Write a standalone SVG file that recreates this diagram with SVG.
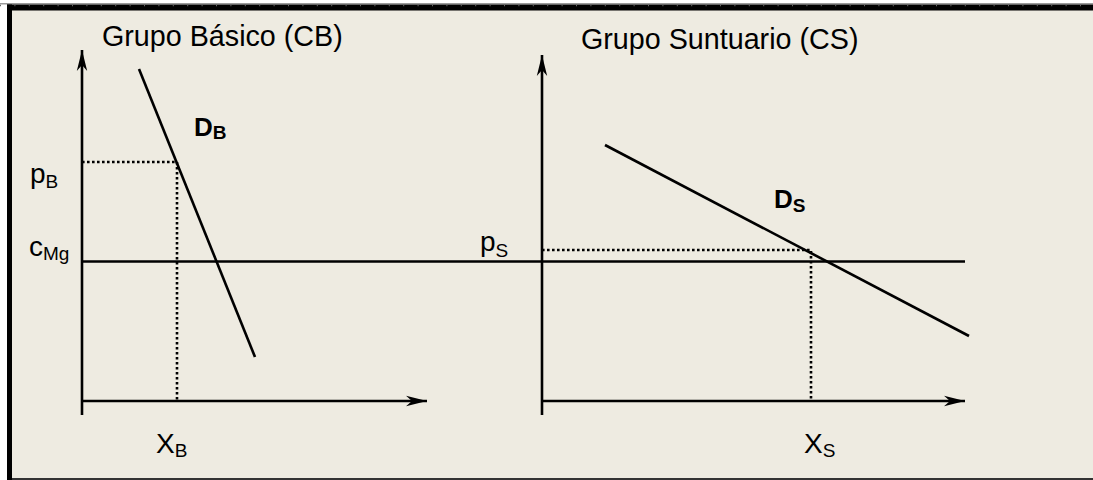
<svg xmlns="http://www.w3.org/2000/svg" width="1093" height="480" viewBox="0 0 1093 480">
  <style>
    .axis { stroke: #000; stroke-width: 2.6; fill: none; }
    .curve { stroke: #000; stroke-width: 2.6; fill: none; }
    .dot { stroke: #000; stroke-width: 2.6; stroke-dasharray: 2.6 2.4; fill: none; }
    text { font-family: "Liberation Sans", Arial, sans-serif; fill: #000; }
    .title { font-size: 28.7px; }
    .lbl { font-size: 28px; }
    .sub { font-size: 19px; }
    .bold { font-weight: bold; font-size: 26px; }
  </style>
  <defs>
    <marker id="arr" markerUnits="userSpaceOnUse" markerWidth="24" markerHeight="14" refX="22" refY="6" orient="auto" viewBox="0 0 24 12">
      <path d="M22,6 L1,0.8 L7,6 L1,11.2 Z" fill="#000"/>
    </marker>
  </defs>
  <rect x="0" y="0" width="1093" height="480" fill="#fff"/>
  <rect x="12" y="10" width="1081" height="468" fill="#EEEBE1"/>
  <g id="frame">
    <rect x="0" y="3" width="1093" height="1.5" fill="#9a9a9a"/>
    <rect x="7" y="4.5" width="1086" height="6" fill="#000"/>
    <line x1="0" y1="5.5" x2="1093" y2="5.5" stroke="#666" stroke-width="1.5" stroke-dasharray="1 13.4"/>
    <rect x="7" y="4.5" width="5" height="475.5" fill="#000"/>
    <rect x="12" y="478" width="1081" height="2" fill="#333"/>
  </g>
  <g id="connectors">
    <line id="axisBy" class="axis" x1="82" y1="415" x2="82" y2="50" marker-end="url(#arr)"/>
    <line id="axisBx" class="axis" x1="82" y1="401" x2="427" y2="401" marker-end="url(#arr)"/>
    <line id="axisSy" class="axis" x1="542" y1="415" x2="542" y2="55" marker-end="url(#arr)"/>
    <line id="axisSx" class="axis" x1="542" y1="401" x2="965" y2="401" marker-end="url(#arr)"/>
    <line id="cmg" class="curve" x1="82" y1="261.5" x2="965" y2="261.5"/>
    <line id="DB" class="curve" x1="139" y1="69" x2="255" y2="357"/>
    <line id="DS" class="curve" x1="605" y1="145" x2="969" y2="336"/>
    <polyline id="dotB" class="dot" points="82,162 177,162 177,401"/>
    <polyline id="dotS" class="dot" points="542,250 811,250 811,401"/>
  </g>
  <g id="titleB"><text class="title" x="102" y="46">Grupo Básico (CB)</text></g>
  <g id="titleS"><text class="title" x="581" y="49">Grupo Suntuario (CS)</text></g>
  <g id="labelDB"><text class="bold" x="194" y="136">D<tspan class="sub" dy="3">B</tspan></text></g>
  <g id="labelDS"><text class="bold" x="774" y="208">D<tspan class="sub" dy="4">S</tspan></text></g>
  <g id="labelPB"><text class="lbl" x="30" y="183">p<tspan class="sub" dy="5">B</tspan></text></g>
  <g id="labelCMg"><text class="lbl" x="29" y="256">c<tspan class="sub" font-size="18" dy="4">Mg</tspan></text></g>
  <g id="labelPS"><text class="lbl" x="480" y="251">p<tspan class="sub" dy="6">S</tspan></text></g>
  <g id="labelXB"><text class="lbl" x="156" y="453">X<tspan class="sub" dy="4">B</tspan></text></g>
  <g id="labelXS"><text class="lbl" x="804" y="453">X<tspan class="sub" dy="4">S</tspan></text></g>
</svg>
